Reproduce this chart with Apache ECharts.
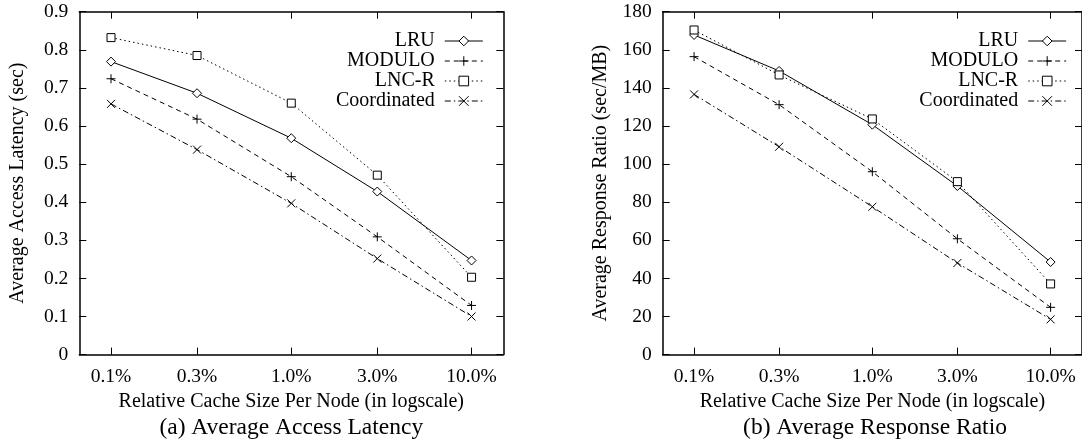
<!DOCTYPE html>
<html>
<head>
<meta charset="utf-8">
<script src="https://cdn.jsdelivr.net/npm/echarts@6/dist/echarts.min.js"></script>
<style>
html, body { margin: 0; padding: 0; background: #fff; overflow: hidden; }
#main { width: 1082px; height: 445px; }
</style>
</head>
<body>
<div id="main"></div>
<script>
// relative cache size per node (%), drawn on a log axis
var sizes = [0.1, 0.3, 1, 3, 10];
var sizeLabels = ['0.1%', '0.3%', '1.0%', '3.0%', '10.0%'];
var names = ['LRU', 'MODULO', 'LNC-R', 'Coordinated'];

// (a) average access latency (sec)
var latLRU = [0.769, 0.686, 0.568, 0.428, 0.247];
var latModulo = [0.724, 0.618, 0.467, 0.309, 0.129];
var latLNCR = [0.832, 0.785, 0.660, 0.471, 0.203];
var latCoord = [0.658, 0.538, 0.397, 0.252, 0.100];

// (b) average response ratio (sec/MB)
var ratioLRU = [167.8, 148.9, 120.7, 88.5, 48.6];
var ratioModulo = [156.4, 131.2, 96.0, 60.8, 24.8];
var ratioLNCR = [170.4, 146.8, 123.7, 90.8, 37.1];
var ratioCoord = [136.6, 109.1, 77.6, 48.1, 18.5];

var FONT = 'Liberation Serif';
var chart = echarts.init(document.getElementById('main'));

// one look per method, like the gnuplot styles
var looks = {
    'LRU': { symbol: 'diamond', size: 9, dash: 'solid' },
    'MODULO': { symbol: 'path://M0,5L10,5M5,0L5,10', size: 9, dash: [5, 4] },
    'LNC-R': { symbol: 'rect', size: 8, dash: [1.5, 3] },
    'Coordinated': { symbol: 'path://M0,0L10,10M10,0L0,10', size: 8, dash: [6, 3, 1.5, 3] }
};

function sizeLabel(v) {
    var best = 0;
    for (var i = 1; i < sizes.length; i++) {
        if (Math.abs(Math.log(sizes[i] / v)) < Math.abs(Math.log(sizes[best] / v))) best = i;
    }
    return sizeLabels[best];
}

function makeSeries(name, vals, grid) {
    var lk = looks[name];
    return {
        name: name,
        type: 'line',
        xAxisIndex: grid * 2,
        yAxisIndex: grid * 2,
        data: sizes.map(function (s, i) { return [s, vals[i]]; }),
        symbol: lk.symbol,
        symbolSize: lk.size,
        showAllSymbol: true,
        lineStyle: { color: '#000', width: 1, type: lk.dash },
        itemStyle: { color: '#fff', borderColor: '#000', borderWidth: 1 },
        emphasis: { disabled: true },
        z: 3
    };
}

function xAxes(grid) {
    var base = {
        type: 'log', logBase: 10, gridIndex: grid, min: 0.0667, max: 15,
        axisLine: { show: true, onZero: false, lineStyle: { color: '#000', width: 1.5 } },
        axisTick: { show: true, inside: true, length: 7, customValues: sizes, lineStyle: { color: '#000', width: 1 } },
        splitLine: { show: false },
        minorTick: { show: false }
    };
    var bottom = Object.assign({}, base, {
        position: 'bottom',
        axisLabel: { show: true, customValues: sizes, formatter: sizeLabel, margin: 12,
            fontSize: 19.5, fontFamily: FONT, color: '#000', showMinLabel: true, showMaxLabel: true },
        name: 'Relative Cache Size Per Node (in logscale)',
        nameLocation: 'middle', nameGap: 31,
        nameTextStyle: { fontSize: 20, fontFamily: FONT, color: '#000' }
    });
    var top = Object.assign({}, base, { position: 'top', axisLabel: { show: false } });
    return [bottom, top];
}

function yAxes(grid, max, step, title) {
    var base = {
        type: 'value', gridIndex: grid, min: 0, max: max, interval: step,
        axisLine: { show: true, onZero: false, lineStyle: { color: '#000', width: 1.5 } },
        axisTick: { show: true, inside: true, length: 7, lineStyle: { color: '#000', width: 1 } },
        splitLine: { show: false }
    };
    var left = Object.assign({}, base, {
        position: 'left',
        axisLabel: { margin: 11, fontSize: 19.5, fontFamily: FONT, color: '#000' },
        name: title, nameLocation: 'middle', nameGap: 52,
        nameTextStyle: { fontSize: 20, fontFamily: FONT, color: '#000' }
    });
    var right = Object.assign({}, base, { position: 'right', axisLabel: { show: false } });
    return [left, right];
}

function legendAt(right) {
    return {
        data: names, orient: 'vertical', align: 'right',
        right: right, top: 31, padding: 0,
        itemWidth: 38, itemHeight: 12, itemGap: 0,
        selectedMode: false,
        lineStyle: { width: 1 },
        itemStyle: { borderWidth: 1 },
        textStyle: { fontSize: 20, fontFamily: FONT, color: '#000', padding: [0, 5, 0, 0] }
    };
}

var option = {
    animation: false,
    backgroundColor: '#fff',
    grid: [
        { left: 79.3, top: 11.7, width: 424, height: 342.9 },
        { left: 662.7, top: 11.7, width: 424.3, height: 342.9 }
    ],
    title: [
        { text: '(a) Average Access Latency', left: 291.3, top: 416, textAlign: 'center', padding: 0,
          textStyle: { fontSize: 23.5, fontWeight: 'normal', fontFamily: FONT, color: '#000' } },
        { text: '(b) Average Response Ratio', left: 875, top: 416, textAlign: 'center', padding: 0,
          textStyle: { fontSize: 23.5, fontWeight: 'normal', fontFamily: FONT, color: '#000' } }
    ],
    legend: [legendAt(598.7), legendAt(15.3)],
    xAxis: xAxes(0).concat(xAxes(1)),
    yAxis: yAxes(0, 0.9, 0.1, 'Average Access Latency (sec)')
        .concat(yAxes(1, 180, 20, 'Average Response Ratio (sec/MB)')),
    series: [
        makeSeries('LRU', latLRU, 0),
        makeSeries('MODULO', latModulo, 0),
        makeSeries('LNC-R', latLNCR, 0),
        makeSeries('Coordinated', latCoord, 0),
        makeSeries('LRU', ratioLRU, 1),
        makeSeries('MODULO', ratioModulo, 1),
        makeSeries('LNC-R', ratioLNCR, 1),
        makeSeries('Coordinated', ratioCoord, 1)
    ]
};

chart.setOption(option);
</script>
</body>
</html>
